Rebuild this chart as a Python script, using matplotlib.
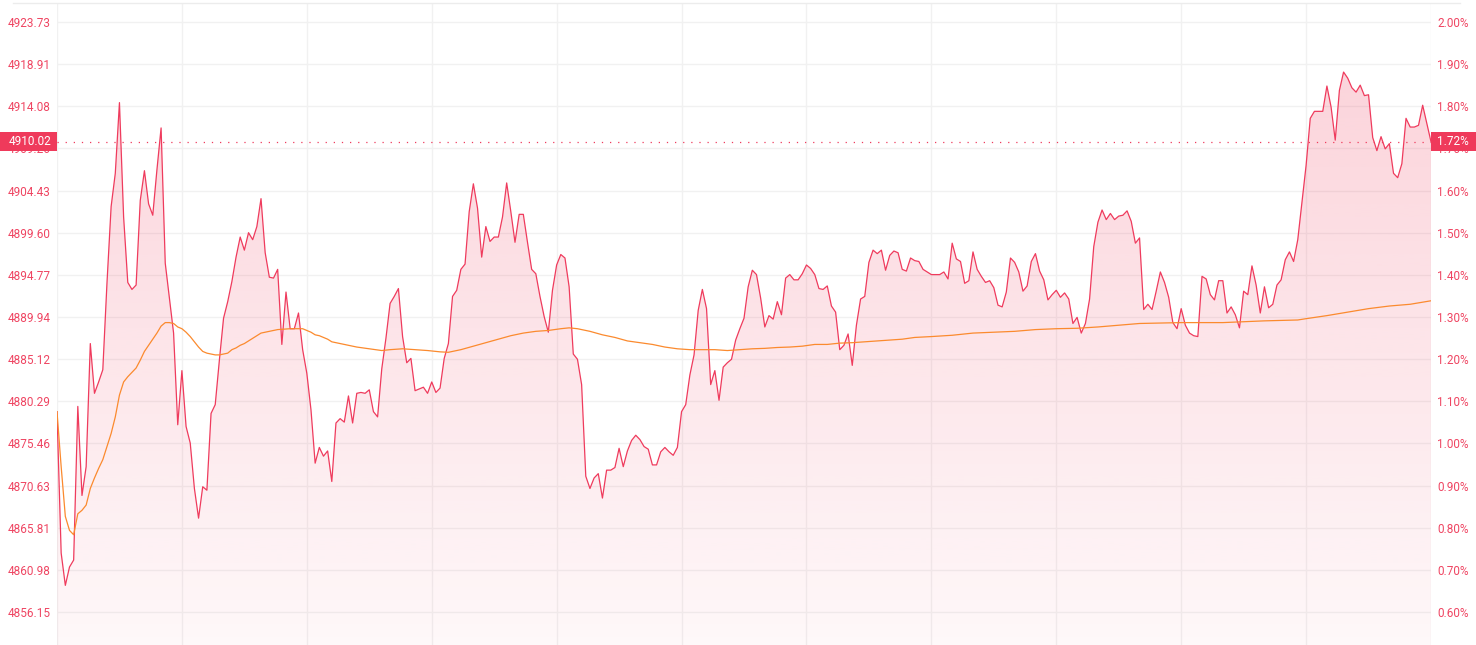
import numpy as np
import matplotlib
matplotlib.use("Agg")
import matplotlib.pyplot as plt
from matplotlib.patches import Rectangle, PathPatch
from matplotlib.path import Path
from matplotlib.lines import Line2D
import matplotlib.transforms as mtransforms

plt.rcParams["font.family"] = ["Roboto", "DejaVu Sans"]

# intraday prices, one per minute (HK session, 331 points)
prices = [
    4879.1, 4862.9, 4859.2, 4861.3, 4862.1, 4879.7, 4869.5, 4872.8, 4886.9, 4881.2,
    4882.5, 4883.9, 4893.8, 4902.6, 4906.4, 4914.5, 4901.4, 4893.9, 4893.1, 4893.6,
    4903.3, 4906.7, 4902.9, 4901.6, 4906.8, 4911.6, 4896.1, 4892.1, 4888.1, 4877.6,
    4883.8, 4877.4, 4875.5, 4870.3, 4866.9, 4870.5, 4870.1, 4878.9, 4879.9, 4885.0,
    4889.8, 4891.7, 4894.0, 4896.8, 4899.1, 4897.6, 4899.6, 4898.8, 4900.3, 4903.5,
    4897.3, 4894.5, 4894.4, 4895.4, 4886.8, 4892.8, 4888.6, 4888.6, 4890.4, 4886.2,
    4883.5, 4879.3, 4873.2, 4875.0, 4874.0, 4874.6, 4871.1, 4877.8, 4878.3, 4877.9,
    4880.9, 4877.8, 4881.2, 4881.3, 4881.2, 4881.6, 4879.1, 4878.5, 4884.0, 4887.5,
    4891.5, 4892.3, 4893.2, 4887.7, 4884.7, 4885.2, 4881.5, 4881.7, 4881.9, 4881.2,
    4882.5, 4881.3, 4881.8, 4885.2, 4886.9, 4892.3, 4893.0, 4895.4, 4896.0, 4902.0,
    4905.2, 4902.4, 4896.8, 4900.3, 4898.6, 4899.1, 4899.1, 4901.4, 4905.3, 4902.0,
    4898.5, 4901.7, 4901.7, 4898.5, 4895.4, 4894.9, 4892.3, 4890.0, 4888.2, 4893.0,
    4895.9, 4897.1, 4896.7, 4893.4, 4885.7, 4885.1, 4882.2, 4871.7, 4870.3, 4871.5,
    4872.0, 4869.2, 4872.4, 4872.4, 4872.7, 4874.9, 4872.8, 4874.6, 4875.8, 4876.4,
    4875.9, 4875.1, 4874.8, 4873.0, 4873.0, 4874.5, 4875.0, 4874.5, 4874.1, 4875.0,
    4879.1, 4879.9, 4883.3, 4885.6, 4890.7, 4893.1, 4890.9, 4882.2, 4883.8, 4880.4,
    4884.2, 4884.7, 4885.1, 4887.3, 4888.6, 4889.8, 4893.4, 4895.3, 4894.8, 4892.1,
    4888.8, 4890.1, 4889.7, 4891.7, 4890.2, 4894.4, 4894.8, 4894.2, 4894.2, 4894.9,
    4895.9, 4895.5, 4894.8, 4893.2, 4893.1, 4893.5, 4891.2, 4890.5, 4886.2, 4886.7,
    4888.0, 4884.4, 4889.0, 4892.0, 4892.3, 4896.2, 4897.6, 4897.2, 4897.6, 4895.3,
    4897.0, 4897.5, 4897.3, 4895.4, 4895.2, 4896.7, 4896.4, 4896.3, 4895.4, 4895.1,
    4894.8, 4894.8, 4894.8, 4895.1, 4894.3, 4898.4, 4896.6, 4896.3, 4893.8, 4894.1,
    4897.4, 4895.4, 4894.6, 4893.9, 4894.1, 4893.3, 4891.3, 4891.1, 4892.8, 4896.7,
    4896.2, 4895.1, 4892.9, 4893.5, 4896.3, 4897.2, 4895.2, 4894.2, 4891.9, 4892.5,
    4893.0, 4892.2, 4892.7, 4892.0, 4889.2, 4889.9, 4888.1, 4889.2, 4892.0, 4898.0,
    4900.8, 4902.2, 4901.1, 4901.8, 4901.1, 4901.5, 4901.6, 4902.1, 4900.9, 4898.4,
    4899.0, 4890.8, 4891.4, 4890.8, 4892.9, 4895.1, 4893.9, 4892.2, 4889.3, 4888.6,
    4890.9, 4889.0, 4888.1, 4887.8, 4887.7, 4894.6, 4894.3, 4892.5, 4891.9, 4894.1,
    4894.1, 4890.4, 4891.1, 4890.2, 4888.7, 4892.9, 4892.5, 4895.8, 4893.6, 4890.4,
    4893.4, 4891.0, 4891.4, 4893.6, 4894.2, 4896.5, 4897.4, 4896.3, 4898.8, 4903.0,
    4907.3, 4912.7, 4913.5, 4913.5, 4913.5, 4916.4, 4914.0, 4910.2, 4915.9, 4918.0,
    4917.3, 4916.2, 4915.7, 4916.5, 4915.3, 4915.4, 4910.5, 4909.0, 4910.6, 4909.2,
    4909.8, 4906.4, 4905.9, 4907.5, 4912.7, 4911.7, 4911.7, 4911.9, 4914.2, 4912.1,
    4910.02,
]

# average price line, read at these minutes
avg_idx = [0, 1, 2, 3, 4, 5, 6, 7, 8, 9, 10, 11, 12, 13, 14, 15, 16, 17, 18, 19,
           20, 21, 22, 23, 24, 25, 26, 27, 28, 29, 30, 31, 32, 33, 34, 35, 36, 37,
           38, 39, 40, 41, 42, 43, 44, 45, 46, 47, 48, 49, 50, 51, 52, 53, 56, 59,
           60, 61, 62, 63, 64, 65, 66, 67, 68, 69, 72, 75, 78, 80, 83, 86, 89, 92,
           94, 97, 100, 103, 106, 109, 112, 115, 118, 121, 123, 125, 128, 131, 134,
           137, 140, 143, 146, 149, 152, 155, 158, 161, 164, 167, 170, 173, 176,
           179, 182, 185, 188, 191, 194, 197, 200, 203, 206, 210, 215, 220, 225,
           230, 235, 240, 245, 250, 255, 260, 265, 270, 273, 280, 290, 298, 300,
           305, 310, 315, 320, 325, 330]
avg_val = [4879.1, 4872.8, 4867.1, 4865.5, 4865.0, 4867.4, 4867.8, 4868.4, 4870.3,
           4871.5, 4872.6, 4873.6, 4875.1, 4876.6, 4878.5, 4881.0, 4882.5, 4883.1,
           4883.6, 4884.1, 4885.0, 4886.0, 4886.7, 4887.4, 4888.1, 4888.9, 4889.3,
           4889.3, 4889.2, 4888.8, 4888.6, 4888.2, 4887.7, 4887.1, 4886.5, 4886.0,
           4885.8, 4885.7, 4885.6, 4885.6, 4885.7, 4885.8, 4886.2, 4886.4, 4886.7,
           4886.9, 4887.2, 4887.5, 4887.8, 4888.1, 4888.2, 4888.3, 4888.4, 4888.5,
           4888.6, 4888.6, 4888.4, 4888.2, 4887.9, 4887.8, 4887.6, 4887.4, 4887.1,
           4887.0, 4886.9, 4886.8, 4886.5, 4886.3, 4886.1, 4886.2, 4886.3, 4886.2,
           4886.1, 4885.95, 4885.9, 4886.2, 4886.6, 4887.0, 4887.4, 4887.8, 4888.1,
           4888.3, 4888.4, 4888.6, 4888.7, 4888.6, 4888.3, 4887.9, 4887.6, 4887.2,
           4887.0, 4886.8, 4886.5, 4886.3, 4886.2, 4886.2, 4886.2, 4886.1, 4886.2,
           4886.3, 4886.35, 4886.45, 4886.5, 4886.6, 4886.8, 4886.8, 4886.95, 4887.0,
           4887.1, 4887.2, 4887.3, 4887.4, 4887.6, 4887.7, 4887.85, 4888.1, 4888.2,
           4888.3, 4888.5, 4888.6, 4888.65, 4888.8, 4889.0, 4889.2, 4889.25, 4889.3,
           4889.3, 4889.3, 4889.5, 4889.6, 4889.75, 4890.1, 4890.5, 4890.9, 4891.2,
           4891.4, 4891.8]

prev_close = 4827.19
last_price = 4910.02
last_pct = "1.72%"

price_ticks = [4856.15, 4860.98, 4865.81, 4870.63, 4875.46, 4880.29, 4885.12,
               4889.94, 4894.77, 4899.60, 4904.43, 4909.26, 4914.08, 4918.91, 4923.73]
pct_ticks = [0.60, 0.70, 0.80, 0.90, 1.00, 1.10, 1.20, 1.30, 1.40, 1.50, 1.60,
             1.70, 1.80, 1.90, 2.00]

RED = "#ef3b5d"
ORANGE = "#fb8a2e"
TXT = "#ef4562"
GRID = "#f1f1f1"

W, H = 1476, 645
fig = plt.figure(figsize=(W / 100, H / 100), dpi=100)
ax = fig.add_axes([57 / W, 0, 1374 / W, 642 / H])

ylo, yhi = 4852.37, 4925.91
n = len(prices)
x = np.arange(n)
ax.set_xlim(0, n - 1)
ax.set_ylim(ylo, yhi)

# gradient area under the price line
grad = np.zeros((256, 1, 4))
c = matplotlib.colors.to_rgb("#f03a5a")
grad[:, 0, :3] = c
grad[:, 0, 3] = np.linspace(0.037, 0.24, 256)
im = ax.imshow(grad, extent=[0, n - 1, ylo, yhi], origin="lower", aspect="auto",
               interpolation="bilinear", zorder=1)
verts = list(zip(x, prices)) + [(n - 1, ylo), (0, ylo)]
clip = PathPatch(Path(verts), transform=ax.transData, fc="none", ec="none")
ax.add_patch(clip)
im.set_clip_path(clip)

ax.plot(x, prices, color=RED, lw=0.9, zorder=3)
ax.plot(avg_idx, avg_val, color=ORANGE, lw=0.9, zorder=3)

ax.axhline(last_price, color=RED, lw=0.9, ls=(0, (1, 5.5)), zorder=2)

# grid and ticks
ax.set_yticks(price_ticks)
ax.set_yticklabels([f"{v:.2f}" for v in price_ticks])
ax.set_xticks(range(0, n, 30))
ax.set_xticklabels([])
ax.grid(True, color=GRID, lw=1)
ax.set_axisbelow(True)
ax.tick_params(length=0, labelsize=8.5, labelcolor=TXT, pad=4.3)
for s in ax.spines.values():
    s.set_visible(False)

ax2 = ax.twinx()
ax2.set_ylim((ylo / prev_close - 1) * 100, (yhi / prev_close - 1) * 100)
ax2.set_yticks(pct_ticks)
ax2.set_yticklabels([f"{v:.2f}%" for v in pct_ticks])
ax2.tick_params(length=0, labelsize=8.5, labelcolor=TXT, pad=4.3)
for s in ax2.spines.values():
    s.set_visible(False)

# top border line
fig.add_artist(Line2D([13 / W, 1460 / W], [1 - 3 / H, 1 - 3 / H], color="#ececec", lw=1))

# current price tags
tr = mtransforms.blended_transform_factory(fig.transFigure, ax.transData)
hh = 19 / (642 / (yhi - ylo))
fig.add_artist(Rectangle((0, last_price - hh / 2), 57 / W, hh, transform=tr,
                         fc="#ef3a5b", ec="none", zorder=5))
fig.add_artist(Rectangle((1431 / W, last_price - hh / 2), 45 / W, hh, transform=tr,
                         fc="#ef3a5b", ec="none", zorder=5))
fig.text(51 / W, last_price, f"{last_price:.2f}", transform=tr, ha="right", va="center",
         color="white", fontsize=8.5, zorder=6)
fig.text(1437 / W, last_price, last_pct, transform=tr, ha="left", va="center",
         color="white", fontsize=8.5, zorder=6)

fig.savefig("out.png", dpi=100)
